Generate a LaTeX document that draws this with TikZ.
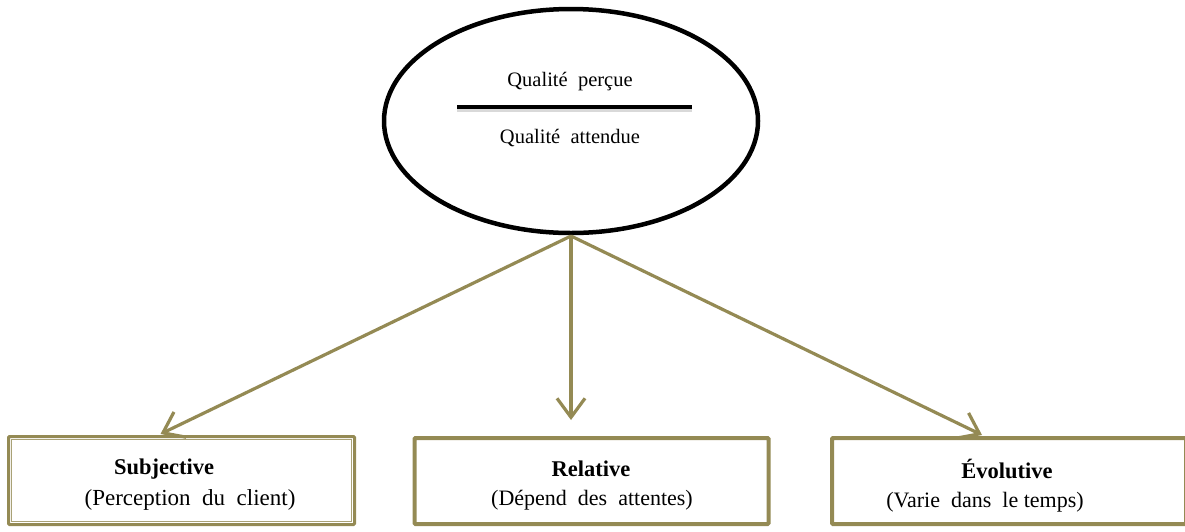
\documentclass[tikz,border=0pt]{standalone}
\usepackage{fontspec}
\setmainfont{Liberation Serif}
\usetikzlibrary{shapes.geometric,arrows.meta}
\definecolor{olive}{HTML}{948A54}
\tikzset{
  conn/.style={draw=olive, line width=3.2pt, -{Straight Barb[length=19pt,width=28pt,line width=3.2pt]}},
  boxthick/.style={draw=olive, line width=4pt, rounded corners=1pt, minimum width=354pt, minimum height=86pt, inner sep=0pt},
  boxdouble/.style={draw=olive, line width=3pt, rounded corners=1pt, minimum width=346pt, minimum height=88pt, inner sep=0pt},
  lbl/.style={font=\fontsize{22pt}{26pt}\selectfont, inner sep=0pt},
  elbl/.style={font=\fontsize{20.5pt}{24pt}\selectfont, inner sep=0pt},
  title/.style={font=\fontsize{22.5pt}{26pt}\selectfont\bfseries, inner sep=0pt},
}
\begin{document}
\begin{tikzpicture}[x=1pt,y=-1pt]
\useasboundingbox (0,0) rectangle (1185,531);
\clip (0,0) rectangle (1185,531);
% ellipse
\node[ellipse, draw=black, line width=4.5pt, minimum width=374pt, minimum height=224pt, inner sep=0pt] (e) at (571,121) {};
\node[elbl] (num) at (570,82) {Qualité\ \ perçue};
\node[elbl] (den) at (570,138) {Qualité\ \ attendue};
\coordinate (fl) at (457,107);
\coordinate (fr) at (692,107);
\draw[black!25, line width=4pt, opacity=0.6] ([yshift=-3pt]fl) -- ([yshift=-3pt]fr);
\draw[black, line width=4pt] (fl) -- (fr);
% boxes
\node[boxdouble] (sub) at (181.5,480.5) {};
\draw[olive!80, line width=1.2pt] ([xshift=4.5pt,yshift=-4.5pt]sub.north west) rectangle ([xshift=-4.5pt,yshift=4.5pt]sub.south east);
\node[boxthick] (rel) at (591.5,481) {};
\node[boxthick] (evo) at (1009,481) {};
% texts
\node[title] (subt) at (164,469) {Subjective};
\node[lbl, font=\fontsize{23pt}{26pt}\selectfont] (subs) at (190,500) {(Perception\hspace{0.5em}du\hspace{0.5em}client)};
\node[title] (relt) at (591,469) {Relative};
\node[lbl] (rels) at (592,500) {(Dépend\ \ des\ \ attentes)};
\node[title] (evot) at (1007,469) {Évolutive};
\node[lbl] (evos) at (985,502) {(Varie\ \ dans\ \ le\ temps)};
% connectors
\coordinate (top) at (571,236);
\draw[conn] (top) -- ([xshift=-21pt,yshift=1pt]sub.north);
\draw[conn] (top) -- ([xshift=-20.5pt,yshift=16pt]rel.north);
\draw[conn] (top) -- ([xshift=-27pt,yshift=1pt]evo.north);
\end{tikzpicture}
\end{document}
